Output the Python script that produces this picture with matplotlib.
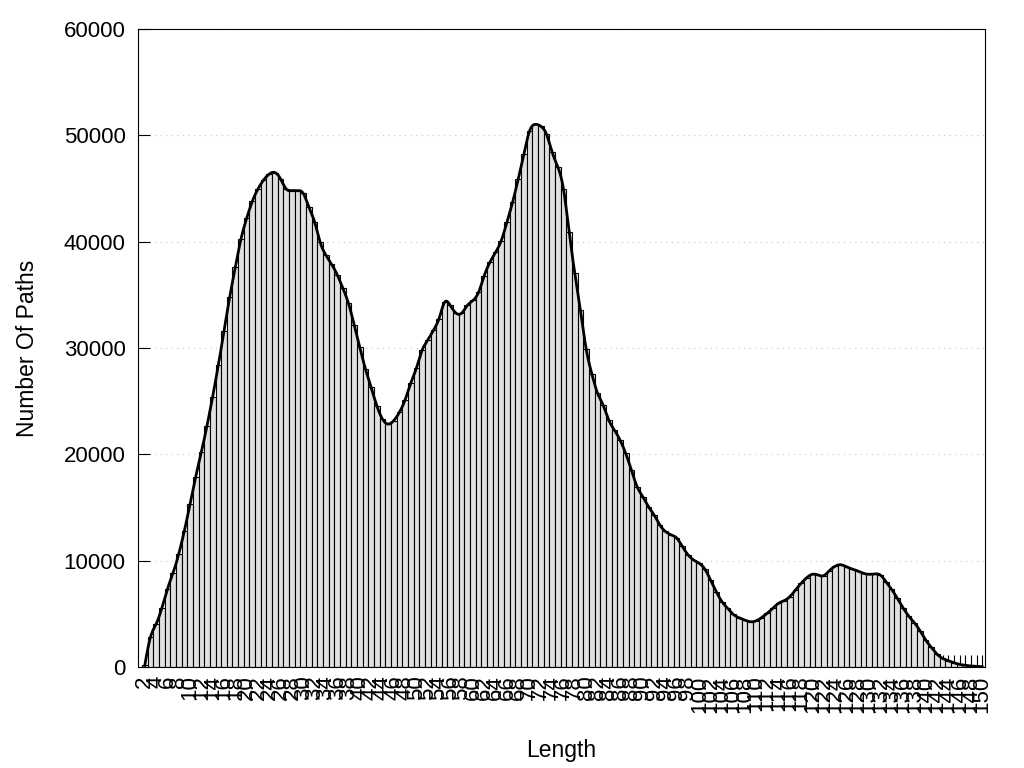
import numpy as np
import matplotlib
matplotlib.use("Agg")
import matplotlib.pyplot as plt
from matplotlib.ticker import FixedLocator

plt.rcParams['font.family'] = ['Liberation Sans', 'DejaVu Sans']

# path length -> number of paths
lengths = list(range(2, 151))
counts = [
    150, 2800, 4040, 5520, 7330, 8840, 10630, 12820, 15330, 17900,      # 2-11
    20190, 22700, 25420, 28400, 31570, 34770, 37590, 40250, 42190, 43790,  # 12-21
    44950, 45800, 46360, 46500, 45900, 44950, 44800, 44800, 44550, 43250,  # 22-31
    41880, 39940, 38750, 37900, 36900, 35640, 34200, 32200, 30060, 28030,  # 32-41
    26300, 24580, 23320, 22850, 23170, 23950, 25110, 26680, 28100, 29780,  # 42-51
    30720, 31660, 32750, 34310, 34000, 33280, 33280, 34000, 34470, 35250,  # 52-61
    36810, 38060, 39000, 40090, 41810, 43690, 45880, 48220, 50400, 51030,  # 62-71
    50850, 50100, 48400, 47030, 44940, 40880, 37030, 33530, 29940, 27590,  # 72-81
    25780, 24630, 23220, 22280, 21340, 20090, 18530, 16970, 16030, 15090,  # 82-91
    14310, 13380, 12750, 12440, 12130, 11340, 10560, 10060, 9750, 9190,    # 92-101
    8180, 7090, 6150, 5520, 4950, 4640, 4420, 4260, 4330, 4640,            # 102-111
    5050, 5520, 5990, 6240, 6610, 7240, 7870, 8400, 8720, 8650,            # 112-121
    8590, 9060, 9470, 9620, 9430, 9220, 9030, 8810, 8720, 8750,            # 122-131
    8650, 8020, 7310, 6460, 5580, 4800, 4170, 3420, 2540, 1850,            # 132-141
    1220, 810, 590, 400, 250, 160, 100, 60, 30,                            # 142-150
]
label_lengths = list(range(2, 151, 2))
y_ticks = [0, 10000, 20000, 30000, 40000, 50000, 60000]


def natural_spline(x, y, per_seg=12):
    # natural cubic spline, same as gnuplot's "smooth csplines"
    x = np.asarray(x, float)
    y = np.asarray(y, float)
    n = len(x)
    h = np.diff(x)
    A = np.zeros((n, n))
    r = np.zeros(n)
    A[0, 0] = A[-1, -1] = 1.0
    for i in range(1, n - 1):
        A[i, i - 1] = h[i - 1]
        A[i, i] = 2 * (h[i - 1] + h[i])
        A[i, i + 1] = h[i]
        r[i] = 6 * ((y[i + 1] - y[i]) / h[i] - (y[i] - y[i - 1]) / h[i - 1])
    M = np.linalg.solve(A, r)
    xs, ys = [], []
    for i in range(n - 1):
        t = np.linspace(x[i], x[i + 1], per_seg, endpoint=False)
        a = x[i + 1] - t
        b = t - x[i]
        s = (M[i] * a**3 + M[i + 1] * b**3) / (6 * h[i]) \
            + (y[i] / h[i] - M[i] * h[i] / 6) * a \
            + (y[i + 1] / h[i] - M[i + 1] * h[i] / 6) * b
        xs.append(t)
        ys.append(s)
    xs.append([x[-1]])
    ys.append([y[-1]])
    return np.concatenate(xs), np.concatenate(ys)


fig = plt.figure(figsize=(10.24, 7.68), dpi=100)
ax = fig.add_axes([138 / 1024, 1 - 667 / 768, 847 / 1024, 638 / 768])

ax.bar(lengths, counts, width=1.0, color='#e0e0e0', edgecolor='black',
       linewidth=0.8, zorder=2)
sx, sy = natural_spline(lengths, counts)
ax.plot(sx, sy, color='black', linewidth=2.0, zorder=3)

ax.set_xlim(0.8, 150.5)
ax.set_ylim(0, 60000)

ax.xaxis.set_major_locator(FixedLocator(label_lengths))
ax.xaxis.set_minor_locator(FixedLocator([l for l in lengths if l % 2]))
ax.set_xticklabels([str(l) for l in label_lengths], rotation=90)
ax.set_yticks(y_ticks)
ax.set_yticklabels([str(v) for v in y_ticks])

ax.tick_params(axis='both', which='both', direction='in', length=8.5,
               width=0.8, labelsize=16, top=False, right=False)
ax.tick_params(axis='y', pad=9)
ax.tick_params(axis='x', pad=6)
ax.set_axisbelow(True)

ax.grid(axis='y', linestyle=(0, (1, 4)), color='#c8c8c8', linewidth=0.8)
for sp in ax.spines.values():
    sp.set_linewidth(0.8)

ax.set_xlabel("Length", fontsize=16.5)
ax.xaxis.set_label_coords(0.5, -0.113)
ax.set_ylabel("Number Of Paths", fontsize=16.5)
ax.yaxis.set_label_coords(-0.117, 0.5)

fig.savefig("out.png", dpi=100)
